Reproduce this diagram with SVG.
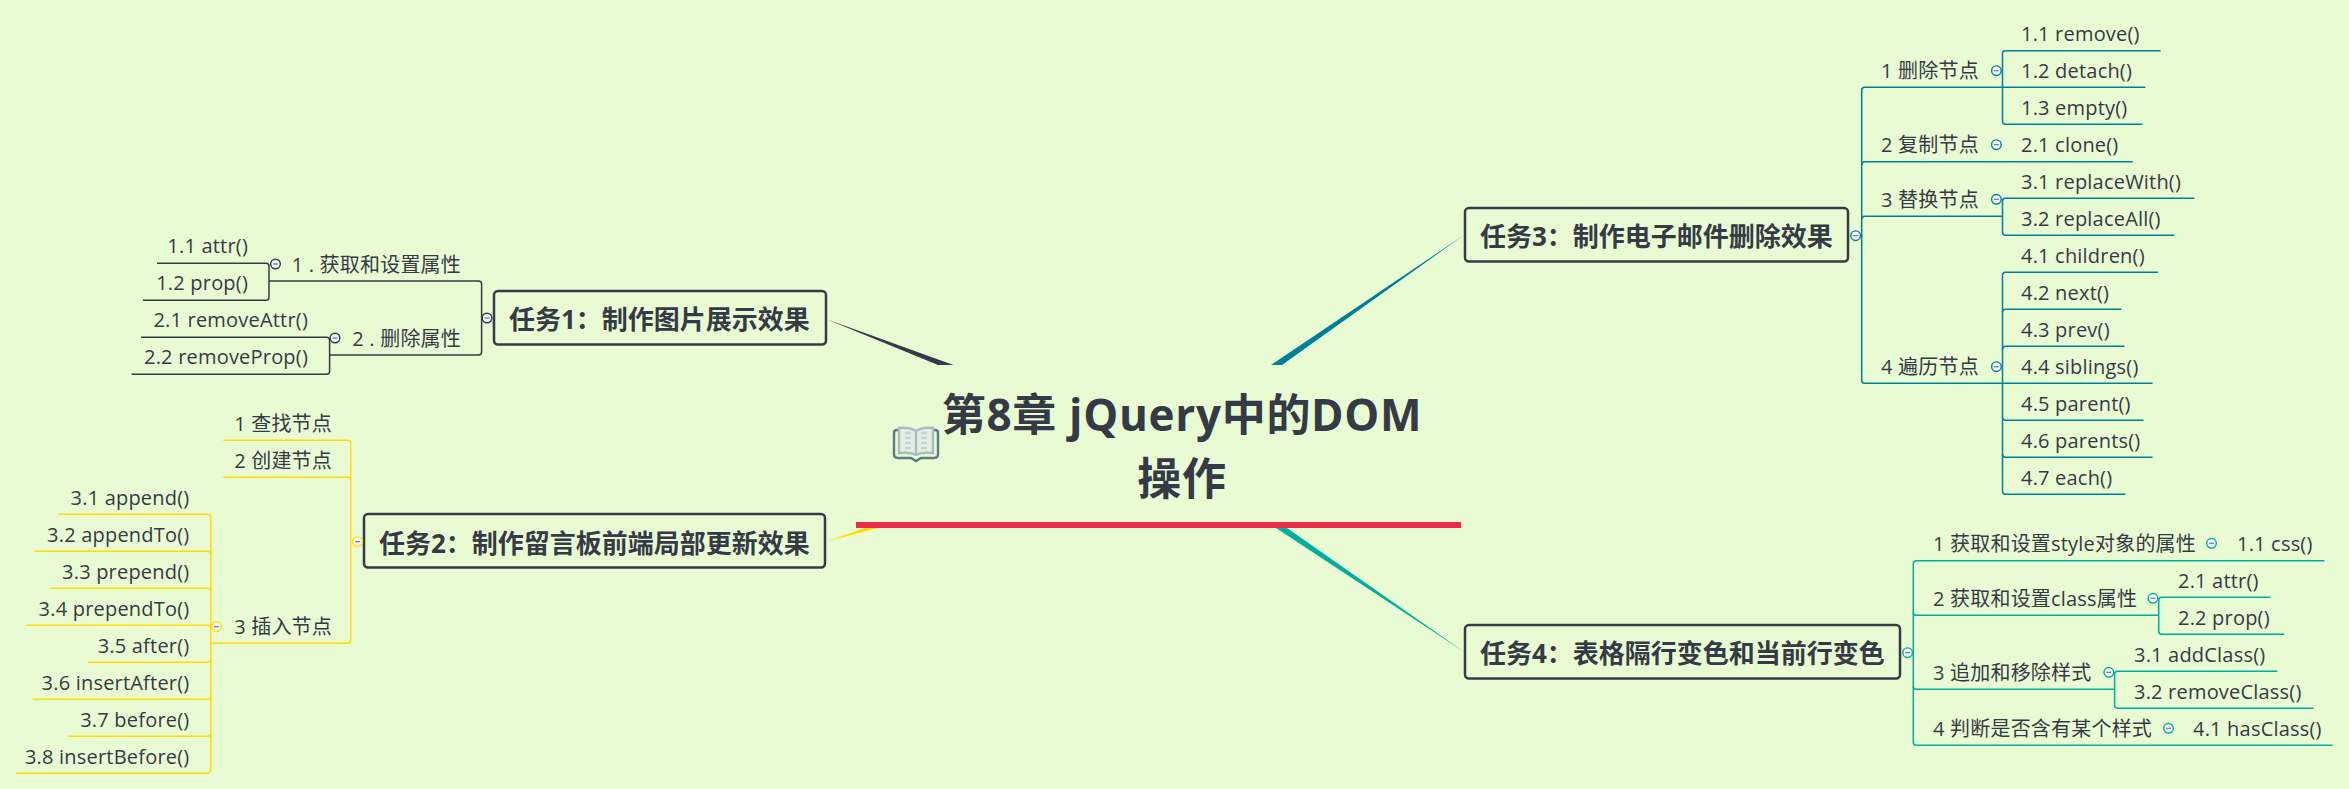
<svg xmlns="http://www.w3.org/2000/svg" width="2349" height="789" viewBox="0 0 2349 789">
<defs>
<style>
text{font-family:"Open Sans","Noto Sans CJK SC","Noto Sans",sans-serif;fill:#353a47;font-size:20px;letter-spacing:.2px}
.l{text-anchor:end}
.t{font-size:26px;font-weight:700;letter-spacing:0}
.c{font-size:44px;font-weight:700;text-anchor:middle;letter-spacing:.7px}
.b{fill:none;stroke:#353a47;stroke-width:2.5}
.k{fill:none;stroke-width:1.5}
.d{stroke:#353a47}.y{stroke:#ffdd00}.p{stroke:#007f99}.g{stroke:#00ad9f}
.m{fill:#f2f8f0;stroke-width:1.4}
.dash{stroke:#6a6ad8;stroke-width:1.2}
</style>
<g id="mn"><line class="dash" x1="-2.5" x2="2.5" y1="0" y2="0"/></g>
</defs>
<rect width="2349" height="789" fill="#e9fbd3"/>
<g id="connectors">
<polygon points="826,319 938,365 953.5,365" fill="#353a47"/>
<polygon points="1464,235 1271,365 1282,365" fill="#007f99"/>
<polygon points="826.5,541.5 876,524 882,527" fill="#ffdd00"/>
<polygon points="1465,652.5 1276,528 1287,528" fill="#00ad9f"/>
<g class="k d">
<path d="M157 263.3H266Q269 263.3 269 266.3V297.3Q269 300.3 266 300.3H143"/>
<path d="M269 281H478.6Q481.6 281 481.6 284V352Q481.6 355 478.6 355H329.6"/>
<path d="M141 337.3H326.6Q329.6 337.3 329.6 340.3V371.3Q329.6 374.3 326.6 374.3H131.6"/>
</g>
<g class="k y">
<path d="M223.3 440.3H347.7Q350.7 440.3 350.7 443.3V640.3Q350.7 643.3 347.7 643.3H210.7"/>
<path d="M223.3 477.3H347.7Q350.7 477.3 350.7 480.3"/>
<path d="M58.5 514.3H207.7Q210.7 514.3 210.7 517.3V770.3Q210.7 773.3 207.7 773.3H16"/>
<path d="M34.4 551.3H207.7Q210.7 551.3 210.7 554.3"/>
<path d="M50.5 588.3H207.7Q210.7 588.3 210.7 591.3"/>
<path d="M26.4 625.3H207.7Q210.7 625.3 210.7 628.3"/>
<path d="M87.8 662.3H207.7Q210.7 662.3 210.7 659.3"/>
<path d="M32.7 699.3H207.7Q210.7 699.3 210.7 696.3"/>
<path d="M68.3 736.3H207.7Q210.7 736.3 210.7 733.3"/>
</g>
<g class="k p">
<path d="M2002.5 87.3H1864.7Q1861.7 87.3 1861.7 90.3V380.3Q1861.7 383.3 1864.7 383.3H2002.5"/>
<path d="M2132.7 161.7H1864.7Q1861.7 161.7 1861.7 164.7"/>
<path d="M2002.5 216.3H1864.7Q1861.7 216.3 1861.7 219.3"/>
<path d="M2160.7 50.7H2005.5Q2002.5 50.7 2002.5 53.7V121.3Q2002.5 124.3 2005.5 124.3H2142.4"/>
<path d="M2002.5 87.3H2145.4"/>
<path d="M2194.4 198.3H2005.5Q2002.5 198.3 2002.5 201.3V232.3Q2002.5 235.3 2005.5 235.3H2174.5"/>
<path d="M2158 272.3H2005.5Q2002.5 272.3 2002.5 275.3V491.3Q2002.5 494.3 2005.5 494.3H2125.5"/>
<path d="M2121.4 309.3H2005.5Q2002.5 309.3 2002.5 312.3"/>
<path d="M2124.5 346.3H2005.5Q2002.5 346.3 2002.5 349.3"/>
<path d="M2002.5 383.3H2152.6"/>
<path d="M2143.4 420.3H2005.5Q2002.5 420.3 2002.5 417.3"/>
<path d="M2152.6 457.3H2005.5Q2002.5 457.3 2002.5 454.3"/>
</g>
<g class="k g">
<path d="M2324.4 560.7H1916.3Q1913.3 560.7 1913.3 563.7V742.3Q1913.3 745.3 1916.3 745.3H2332.5"/>
<path d="M2158.7 615.3H1916.3Q1913.3 615.3 1913.3 612.3"/>
<path d="M2114.6 689.3H1916.3Q1913.3 689.3 1913.3 686.3"/>
<path d="M2270.5 597.3H2161.7Q2158.7 597.3 2158.7 600.3V631.3Q2158.7 634.3 2161.7 634.3H2284.3"/>
<path d="M2277.4 671.3H2117.6Q2114.6 671.3 2114.6 674.3V705.3Q2114.6 708.3 2117.6 708.3H2313.5"/>
</g>
</g>
<g id="root">
<text class="c" x="1182" y="431">第8章 jQuery中的DOM</text>
<text class="c" x="1182" y="495">操作</text>
<rect x="856" y="522" width="605" height="6" fill="#ee2a47"/>
<g id="book-icon" fill="none">
<path d="M899 430H897Q894 430 894 433V454Q894 458 898 458H911L916 461L921 458H934Q938 458 938 454V433Q938 430 935 430H933" stroke="#5d7a88" stroke-width="2.4"/>
<path d="M916 431Q910 427 899 428V453Q910 452 916 455Q922 452 933 453V428Q922 427 916 431ZM916 431V455" stroke="#a9bcc4" stroke-width="2.4" fill="#e4efe0"/>
<path d="M905 433H911M905 438H911M905 443H911M905 448H911M921 433H927M921 438H927M921 443H927M921 448H927" stroke="#c5d5d5" stroke-width="2.4"/>
</g>
</g>
<g id="task1">
<rect class="b" x="494" y="291" width="332" height="53.5" rx="4"/>
<text class="t" x="509" y="329">任务1&#xFF1A;制作图片展示效果</text>
<circle class="m d" cx="487" cy="318" r="4.8"/><use href="#mn" x="487" y="318"/>
</g>
<g id="t1-1"><text class="l" x="461" y="272">1 . 获取和设置属性</text><circle class="m d" cx="275.5" cy="264" r="4.8"/><use href="#mn" x="275.5" y="264"/></g>
<g id="t1-1-1"><text class="l" x="248" y="253">1.1 attr()</text></g>
<g id="t1-1-2"><text class="l" x="248" y="290">1.2 prop()</text></g>
<g id="t1-2"><text class="l" x="461" y="345.5">2 . 删除属性</text><circle class="m d" cx="335" cy="338" r="4.8"/><use href="#mn" x="335" y="338"/></g>
<g id="t1-2-1"><text class="l" x="308" y="327">2.1 removeAttr()</text></g>
<g id="t1-2-2"><text class="l" x="308" y="364">2.2 removeProp()</text></g>
<g id="task2">
<rect class="b" x="364" y="514" width="461" height="53.5" rx="4"/>
<text class="t" x="379" y="553">任务2&#xFF1A;制作留言板前端局部更新效果</text>
<circle class="m y" cx="357.6" cy="541.7" r="4.8"/><use href="#mn" x="357.6" y="541.7"/>
</g>
<g id="t2-1"><text class="l" x="332" y="430.5">1 查找节点</text></g>
<g id="t2-2"><text class="l" x="332" y="467.5">2 创建节点</text></g>
<g id="t2-3"><text class="l" x="332" y="634">3 插入节点</text><circle class="m y" cx="216.4" cy="626.7" r="4.8"/><use href="#mn" x="216.4" y="626.7"/></g>
<g id="t2-3-1"><text class="l" x="189.4" y="504.5">3.1 append()</text></g>
<g id="t2-3-2"><text class="l" x="189.4" y="541.5">3.2 appendTo()</text></g>
<g id="t2-3-3"><text class="l" x="189.4" y="578.5">3.3 prepend()</text></g>
<g id="t2-3-4"><text class="l" x="189.4" y="615.5">3.4 prependTo()</text></g>
<g id="t2-3-5"><text class="l" x="189.4" y="652.5">3.5 after()</text></g>
<g id="t2-3-6"><text class="l" x="189.4" y="689.5">3.6 insertAfter()</text></g>
<g id="t2-3-7"><text class="l" x="189.4" y="726.5">3.7 before()</text></g>
<g id="t2-3-8"><text class="l" x="189.4" y="763.5">3.8 insertBefore()</text></g>
<g id="task3">
<rect class="b" x="1465" y="208" width="383" height="53.5" rx="4"/>
<text class="t" x="1480" y="246">任务3&#xFF1A;制作电子邮件删除效果</text>
<circle class="m p" cx="1855.6" cy="235.7" r="4.8"/><use href="#mn" x="1855.6" y="235.7"/>
</g>
<g id="t3-1"><text x="1881" y="77.5">1 删除节点</text><circle class="m p" cx="1996.4" cy="70.7" r="4.8"/><use href="#mn" x="1996.4" y="70.7"/></g>
<g id="t3-1-1"><text x="2021" y="40.5">1.1 remove()</text></g>
<g id="t3-1-2"><text x="2021" y="77.5">1.2 detach()</text></g>
<g id="t3-1-3"><text x="2021" y="114.5">1.3 empty()</text></g>
<g id="t3-2"><text x="1881" y="151.5">2 复制节点</text><circle class="m p" cx="1996.4" cy="144.7" r="4.8"/><use href="#mn" x="1996.4" y="144.7"/></g>
<g id="t3-2-1"><text x="2021" y="151.5">2.1 clone()</text></g>
<g id="t3-3"><text x="1881" y="206.5">3 替换节点</text><circle class="m p" cx="1996.4" cy="199.3" r="4.8"/><use href="#mn" x="1996.4" y="199.3"/></g>
<g id="t3-3-1"><text x="2021" y="188.5">3.1 replaceWith()</text></g>
<g id="t3-3-2"><text x="2021" y="225.5">3.2 replaceAll()</text></g>
<g id="t3-4"><text x="1881" y="373.5">4 遍历节点</text><circle class="m p" cx="1996.4" cy="366.7" r="4.8"/><use href="#mn" x="1996.4" y="366.7"/></g>
<g id="t3-4-1"><text x="2021" y="262.5">4.1 children()</text></g>
<g id="t3-4-2"><text x="2021" y="299.5">4.2 next()</text></g>
<g id="t3-4-3"><text x="2021" y="336.5">4.3 prev()</text></g>
<g id="t3-4-4"><text x="2021" y="373.5">4.4 siblings()</text></g>
<g id="t3-4-5"><text x="2021" y="410.5">4.5 parent()</text></g>
<g id="t3-4-6"><text x="2021" y="447.5">4.6 parents()</text></g>
<g id="t3-4-7"><text x="2021" y="484.5">4.7 each()</text></g>
<g id="task4">
<rect class="b" x="1465" y="625" width="435" height="53.5" rx="4"/>
<text class="t" x="1480" y="663">任务4&#xFF1A;表格隔行变色和当前行变色</text>
<circle class="m g" cx="1907.6" cy="652.7" r="4.8"/><use href="#mn" x="1907.6" y="652.7"/>
</g>
<g id="t4-1"><text x="1933" y="551">1 获取和设置style对象的属性</text><circle class="m g" cx="2211.5" cy="543.3" r="4.8"/><use href="#mn" x="2211.5" y="543.3"/></g>
<g id="t4-1-1"><text x="2237" y="551">1.1 css()</text></g>
<g id="t4-2"><text x="1933" y="606">2 获取和设置class属性</text><circle class="m g" cx="2153" cy="598.3" r="4.8"/><use href="#mn" x="2153" y="598.3"/></g>
<g id="t4-2-1"><text x="2178" y="587.5">2.1 attr()</text></g>
<g id="t4-2-2"><text x="2178" y="624.5">2.2 prop()</text></g>
<g id="t4-3"><text x="1933" y="680">3 追加和移除样式</text><circle class="m g" cx="2108.8" cy="672.3" r="4.8"/><use href="#mn" x="2108.8" y="672.3"/></g>
<g id="t4-3-1"><text x="2134" y="661.5">3.1 addClass()</text></g>
<g id="t4-3-2"><text x="2134" y="698.5">3.2 removeClass()</text></g>
<g id="t4-4"><text x="1933" y="735.5">4 判断是否含有某个样式</text><circle class="m g" cx="2168.5" cy="728.3" r="4.8"/><use href="#mn" x="2168.5" y="728.3"/></g>
<g id="t4-4-1"><text x="2193" y="735.5">4.1 hasClass()</text></g>
</svg>
